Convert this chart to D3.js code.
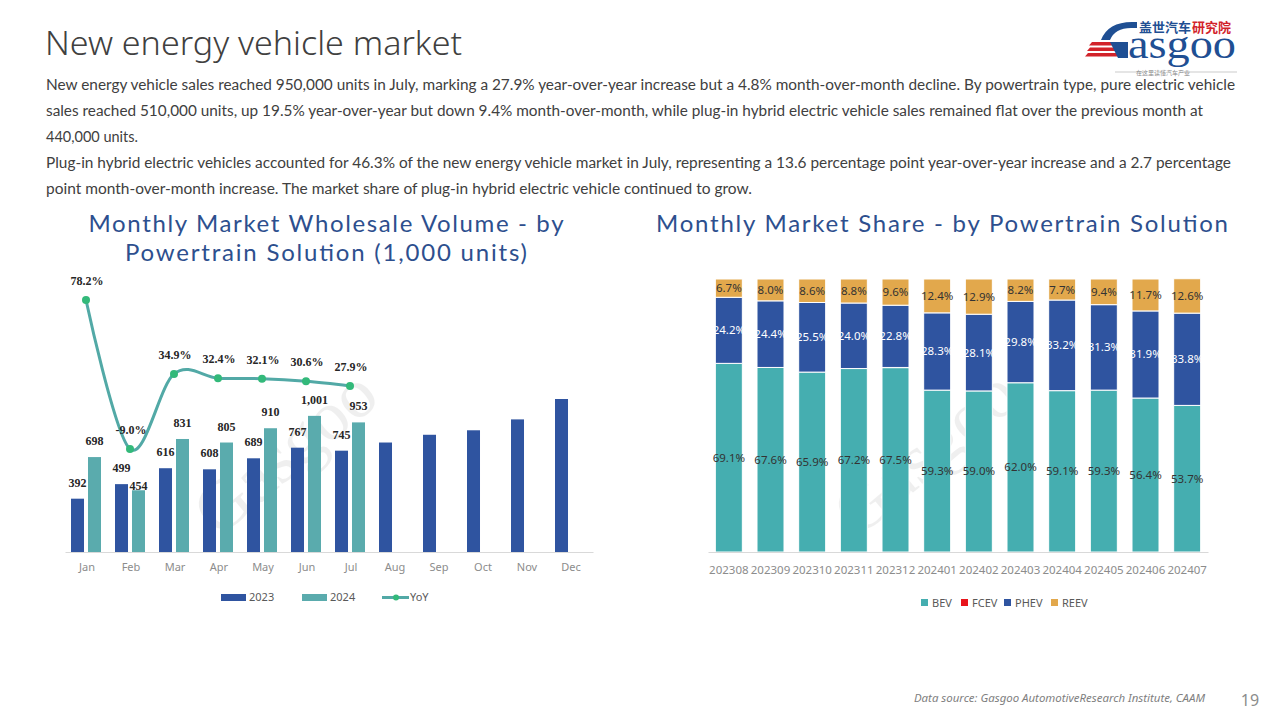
<!DOCTYPE html>
<html>
<head>
<meta charset="utf-8">
<script src="https://cdn.jsdelivr.net/npm/d3@7"></script>
<style>
  body { margin: 0; background: #fff; }
  svg { display: block; font-family: "Noto Sans", sans-serif; }
</style>
</head>
<body>
<svg id="page" width="1280" height="720"></svg>
<script>
// --- data ---
const months = ["Jan", "Feb", "Mar", "Apr", "May", "Jun", "Jul", "Aug", "Sep", "Oct", "Nov", "Dec"];
const vol2023 = [392, 499, 616, 608, 689, 767, 745, 805, 862, 895, 975, 1125];
const vol2024 = [698, 454, 831, 805, 910, 1001, 953];
const yoy = [78.2, -9.0, 34.9, 32.4, 32.1, 30.6, 27.9];

const periods = ["202308", "202309", "202310", "202311", "202312", "202401", "202402", "202403", "202404", "202405", "202406", "202407"];
const bev = [69.1, 67.6, 65.9, 67.2, 67.5, 59.3, 59.0, 62.0, 59.1, 59.3, 56.4, 53.7];
const fcev = [0, 0, 0, 0, 0.1, 0, 0, 0, 0, 0, 0, 0];
const phev = [24.2, 24.4, 25.5, 24.0, 22.8, 28.3, 28.1, 29.8, 33.2, 31.3, 31.9, 33.8];
const reev = [6.7, 8.0, 8.6, 8.8, 9.6, 12.4, 12.9, 8.2, 7.7, 9.4, 11.7, 12.6];

const paragraph = [
  "New energy vehicle sales reached 950,000 units in July, marking a 27.9% year-over-year increase but a 4.8% month-over-month decline. By powertrain type, pure electric vehicle",
  "sales reached 510,000 units, up 19.5% year-over-year but down 9.4% month-over-month, while plug-in hybrid electric vehicle sales remained flat over the previous month at",
  "440,000 units.",
  "Plug-in hybrid electric vehicles accounted for 46.3% of the new energy vehicle market in July, representing a 13.6 percentage point year-over-year increase and a 2.7 percentage",
  "point month-over-month increase. The market share of plug-in hybrid electric vehicle continued to grow."
];
const paragraphWidths = [1189, 1157, 92, 1185, 706];

const c2023 = "#2f54a0", c2024 = "#5aabad", cLine = "#52a9a6", cDot = "#33b97a";
const shareColors = { BEV: "#45aeb0", FCEV: "#e8141b", PHEV: "#2f54a0", REEV: "#e2a84c" };
const titleBlue = "#2d4f8e";

const svg = d3.select("#page");

// --- header ---
svg.append("text")
  .attr("x", 45).attr("y", 55)
  .attr("font-size", 33).attr("fill", "#404040").attr("font-weight", 300)
  .attr("textLength", 417).attr("lengthAdjust", "spacingAndGlyphs")
  .text("New energy vehicle market");

svg.append("g").selectAll("text")
  .data(paragraph)
  .enter().append("text")
  .attr("x", 46)
  .attr("y", (d, i) => 90 + i * 26)
  .attr("font-size", 14.5)
  .attr("font-family", "Lato")
  .attr("fill", "#404040")
  .attr("textLength", (d, i) => paragraphWidths[i])
  .attr("lengthAdjust", "spacingAndGlyphs")
  .text(d => d);

// logo
const logo = svg.append("g");
logo.append("text").attr("x", 1139).attr("y", 32).attr("font-size", 13).attr("font-weight", 700)
  .attr("font-family", "Noto Sans CJK SC").attr("fill", "#1f4f93").text("盖世汽车");
logo.append("text").attr("x", 1192).attr("y", 32).attr("font-size", 13).attr("font-weight", 700)
  .attr("font-family", "Noto Sans CJK SC").attr("fill", "#d2232a").text("研究院");
logo.append("path")
  .attr("d", "M1101,40 Q1108,22 1132,22 L1137,22 L1137,28 L1131,28 Q1115,28 1110,40 Z")
  .attr("fill", "#1f4f93");
[0, 1, 2].forEach(i => {
  logo.append("path")
    .attr("d", `M${1092 - i * 2},${42 + i * 5.5} L${1124 - i * 2},${42 + i * 5.5} L${1122 - i * 2},${45.5 + i * 5.5} L${1089 - i * 2},${45.5 + i * 5.5} Z`)
    .attr("fill", "#d2232a");
});
logo.append("path").attr("d", "M1110,42 L1128,42 L1128,58 L1118,58 Z").attr("fill", "#1f4f93");
logo.append("text").attr("x", 1128).attr("y", 58).attr("font-size", 40)
  .attr("font-family", "Liberation Serif, serif").attr("fill", "#1f4f93")
  .attr("textLength", 108).attr("lengthAdjust", "spacingAndGlyphs").text("asgoo");
logo.append("line").attr("x1", 1115).attr("x2", 1143).attr("y1", 72).attr("y2", 72).attr("stroke", "#aaa").attr("stroke-width", 0.6);
logo.append("line").attr("x1", 1183).attr("x2", 1237).attr("y1", 72).attr("y2", 72).attr("stroke", "#aaa").attr("stroke-width", 0.6);
logo.append("text").attr("x", 1163).attr("y", 74.5).attr("text-anchor", "middle").attr("font-size", 6)
  .attr("font-family", "Noto Sans CJK SC").attr("fill", "#888").text("在这里读懂汽车产业");

// footer
svg.append("text").attr("x", 1205).attr("y", 702).attr("text-anchor", "end")
  .attr("font-size", 11.5).attr("font-style", "italic").attr("fill", "#7f7f7f")
  .attr("textLength", 291).attr("lengthAdjust", "spacingAndGlyphs")
  .text("Data source: Gasgoo AutomotiveResearch Institute, CAAM");
svg.append("text").attr("x", 1250).attr("y", 706).attr("text-anchor", "middle")
  .attr("font-size", 16).attr("fill", "#8c8c8c").text("19");

// faint watermarks
[[300, 470], [940, 470]].forEach(([wx, wy]) => {
  svg.append("text")
    .attr("transform", `translate(${wx},${wy}) rotate(-40)`)
    .attr("text-anchor", "middle")
    .attr("font-size", 70).attr("font-family", "Liberation Serif, serif")
    .attr("fill", "#000").attr("opacity", 0.06)
    .text("Gasgoo");
});

// --- left chart: wholesale volume ---
const left = svg.append("g");
const titleFont = "Lato";
left.append("text").attr("x", 326).attr("y", 232).attr("text-anchor", "middle")
  .attr("font-size", 24).attr("font-family", titleFont).attr("fill", titleBlue)
  .attr("textLength", 475).attr("lengthAdjust", "spacing")
  .text("Monthly Market Wholesale Volume - by");
left.append("text").attr("x", 326).attr("y", 261).attr("text-anchor", "middle")
  .attr("font-size", 24).attr("font-family", titleFont).attr("fill", titleBlue)
  .attr("textLength", 402).attr("lengthAdjust", "spacing")
  .text("Powertrain Solution (1,000 units)");

const x = d3.scaleBand().domain(months).range([65, 593]);
const xSub = d3.scaleBand().domain(["2023", "2024"]).range([6, 36]).paddingInner(0.235);
const y = d3.scaleLinear().domain([0, 2000]).range([552, 280]);
const yPct = d3.scaleLinear().domain([-70, 100]).range([553.2, 262.7]);

left.append("g")
  .selectAll("rect")
  .data(vol2023)
  .enter().append("rect")
  .attr("x", (d, i) => x(months[i]) + xSub("2023"))
  .attr("y", d => y(d))
  .attr("width", xSub.bandwidth())
  .attr("height", d => y(0) - y(d))
  .attr("fill", c2023);

left.append("g")
  .selectAll("rect")
  .data(vol2024)
  .enter().append("rect")
  .attr("x", (d, i) => x(months[i]) + xSub("2024"))
  .attr("y", d => y(d))
  .attr("width", xSub.bandwidth())
  .attr("height", d => y(0) - y(d))
  .attr("fill", c2024);

const xAxisL = left.append("g")
  .attr("transform", "translate(0,552)")
  .call(d3.axisBottom(x).tickSize(0).tickPadding(11));
xAxisL.select(".domain").attr("stroke", "#d9d9d9");
xAxisL.selectAll("text").attr("font-size", 11).attr("fill", "#8c8c8c").attr("font-family", "Noto Sans");

const fmt = d3.format(",");
const labelFont = "Liberation Serif, serif";
// value labels (the Feb 2024 label sits lower in the source slide)
left.append("g").selectAll("text")
  .data(vol2023.slice(0, 7))
  .enter().append("text")
  .attr("x", (d, i) => x(months[i]) + xSub("2023") + xSub.bandwidth() / 2)
  .attr("y", d => y(d) - 12)
  .attr("text-anchor", "middle")
  .attr("font-size", 12).attr("font-weight", 700).attr("font-family", labelFont).attr("fill", "#262626")
  .text(d => fmt(d));

left.append("g").selectAll("text")
  .data(vol2024)
  .enter().append("text")
  .attr("x", (d, i) => x(months[i]) + xSub("2024") + xSub.bandwidth() / 2)
  .attr("y", (d, i) => y(d) - (i === 1 ? 0 : 12))
  .attr("text-anchor", "middle")
  .attr("font-size", 12).attr("font-weight", 700).attr("font-family", labelFont).attr("fill", "#262626")
  .text(d => fmt(d));

const line = d3.line()
  .x((d, i) => x(months[i]) + x.bandwidth() / 2 - 1)
  .y(d => yPct(d))
  .curve(d3.curveCardinal.tension(0));

left.append("path")
  .datum(yoy)
  .attr("d", line)
  .attr("fill", "none")
  .attr("stroke", cLine)
  .attr("stroke-width", 3);

left.append("g").selectAll("circle")
  .data(yoy)
  .enter().append("circle")
  .attr("cx", (d, i) => x(months[i]) + x.bandwidth() / 2 - 1)
  .attr("cy", d => yPct(d))
  .attr("r", 4)
  .attr("fill", cDot);

left.append("g").selectAll("text")
  .data(yoy)
  .enter().append("text")
  .attr("x", (d, i) => x(months[i]) + x.bandwidth() / 2)
  .attr("y", d => yPct(d) - 15)
  .attr("text-anchor", "middle")
  .attr("font-size", 12).attr("font-weight", 700).attr("font-family", labelFont).attr("fill", "#262626")
  .text(d => d.toFixed(1) + "%");

// left legend
const legL = left.append("g").attr("font-size", 11).attr("fill", "#595959");
legL.append("rect").attr("x", 221).attr("y", 594).attr("width", 25).attr("height", 7).attr("fill", c2023);
legL.append("text").attr("x", 249).attr("y", 601).text("2023");
legL.append("rect").attr("x", 302).attr("y", 594).attr("width", 25).attr("height", 7).attr("fill", c2024);
legL.append("text").attr("x", 330).attr("y", 601).text("2024");
legL.append("line").attr("x1", 382).attr("x2", 409).attr("y1", 597.5).attr("y2", 597.5).attr("stroke", cLine).attr("stroke-width", 3);
legL.append("circle").attr("cx", 396).attr("cy", 597.5).attr("r", 3).attr("fill", cDot);
legL.append("text").attr("x", 410).attr("y", 601).text("YoY");

// --- right chart: market share ---
const right = svg.append("g");
right.append("text").attr("x", 942).attr("y", 232).attr("text-anchor", "middle")
  .attr("font-size", 24).attr("font-family", titleFont).attr("fill", titleBlue)
  .attr("textLength", 572).attr("lengthAdjust", "spacing")
  .text("Monthly Market Share - by Powertrain Solution");

const keys = ["BEV", "FCEV", "PHEV", "REEV"];
const shareTable = periods.map((p, i) => ({ period: p, BEV: bev[i], FCEV: fcev[i], PHEV: phev[i], REEV: reev[i] }));
const stacked = d3.stack().keys(keys)(shareTable);

const xs = d3.scaleBand().domain(periods).range([708, 1208]).paddingInner(0.352).paddingOuter(0.176);
const ys = d3.scaleLinear().domain([0, 100]).range([552, 279]);

const layers = right.append("g").selectAll("g")
  .data(stacked)
  .enter().append("g")
  .attr("fill", d => shareColors[d.key]);

layers.selectAll("rect")
  .data(d => d)
  .enter().append("rect")
  .attr("x", d => xs(d.data.period))
  .attr("y", d => ys(d[1]))
  .attr("width", xs.bandwidth())
  .attr("height", d => ys(d[0]) - ys(d[1]))
  .attr("stroke", "#fff")
  .attr("stroke-width", d => (d[1] - d[0]) > 0.5 ? 1 : 0);

const labelColor = { BEV: "#333", PHEV: "#fff", REEV: "#333" };
stacked.filter(s => s.key !== "FCEV").forEach(s => {
  right.append("g").selectAll("text")
    .data(s)
    .enter().append("text")
    .attr("x", d => xs(d.data.period) + xs.bandwidth() / 2)
    .attr("y", d => (ys(d[0]) + ys(d[1])) / 2 + 4)
    .attr("text-anchor", "middle")
    .attr("font-size", 11.5)
    .attr("fill", labelColor[s.key])
    .text(d => (d[1] - d[0]).toFixed(1) + "%");
});

const xAxisR = right.append("g")
  .attr("transform", "translate(0,552)")
  .call(d3.axisBottom(xs).tickSize(0).tickPadding(14));
xAxisR.select(".domain").attr("stroke", "#d9d9d9");
xAxisR.selectAll("text").attr("font-size", 11.5).attr("fill", "#8c8c8c").attr("font-family", "Noto Sans");

// right legend
const legR = right.append("g").attr("font-size", 11).attr("fill", "#595959");
const legX = [921, 961, 1004, 1051];
keys.forEach((k, i) => {
  legR.append("rect").attr("x", legX[i]).attr("y", 599).attr("width", 7).attr("height", 7).attr("fill", shareColors[k]);
  legR.append("text").attr("x", legX[i] + 11).attr("y", 607).text(k);
});
</script>
</body>
</html>
